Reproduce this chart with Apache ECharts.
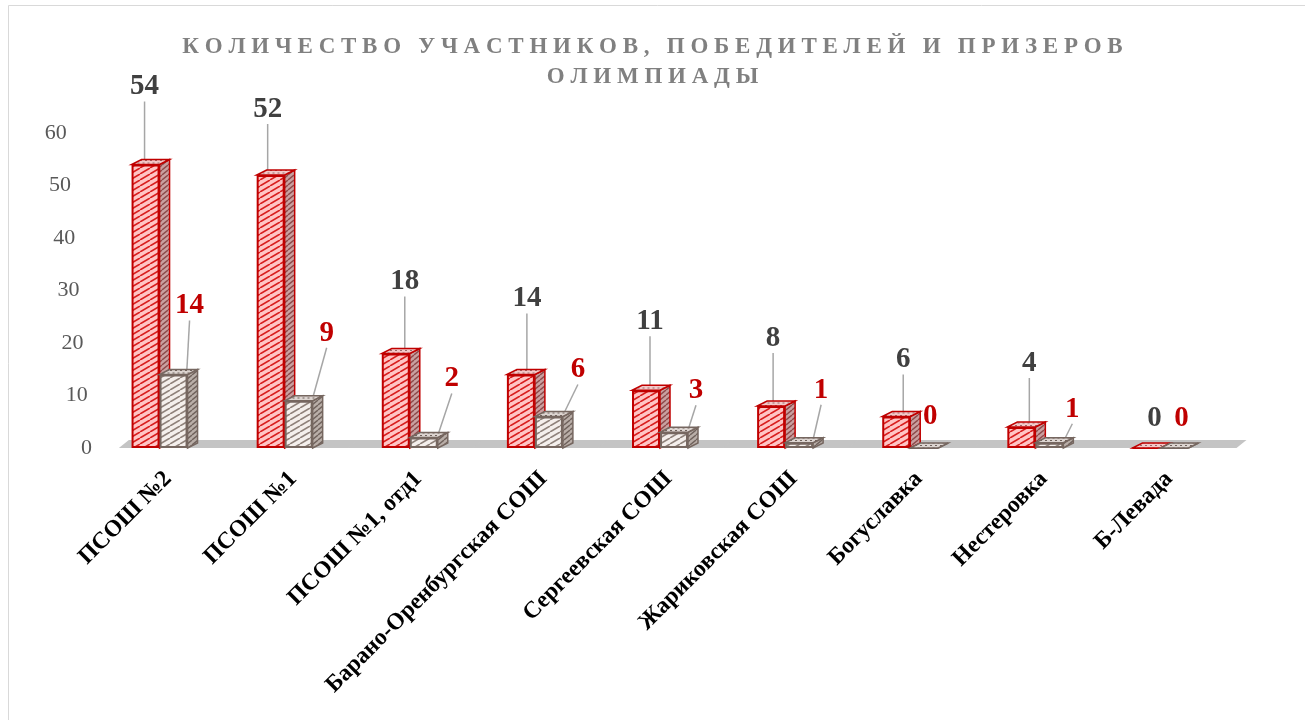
<!DOCTYPE html>
<html><head><meta charset="utf-8">
<script src="https://cdn.jsdelivr.net/npm/echarts@6/dist/echarts.min.js"></script>
<style>html,body{margin:0;padding:0;background:#fff;}#c{width:1305px;height:720px;}</style>
</head><body><div id="c"></div>
<script>
// ---- data ----
const categories = ['ПСОШ №2','ПСОШ №1','ПСОШ №1, отд1','Барано-Оренбургская СОШ','Сергеевская СОШ','Жариковская СОШ','Богуславка','Нестеровка','Б-Левада'];
const participants = [54,52,18,14,11,8,6,4,0];
const winners = [14,9,2,6,3,1,0,1,0];
const seriesNames = ['Участники','Победители и призёры'];
const yMin = 0, yMax = 60, yStep = 10;
const titleLines = ['КОЛИЧЕСТВО УЧАСТНИКОВ, ПОБЕДИТЕЛЕЙ И ПРИЗЕРОВ','ОЛИМПИАДЫ'];

// ---- label placement (layout, not data) ----
const partLabelShift = [[-1,-58],[-3,-46],[9,-52],[6,-56],[4,-49],[2,-48],[7,-37],[8,-44],[8,-9]];
const winLabelShift  = [[16,-49],[28,-48],[28,-39],[29,-27],[22,-22],[22,-33],[6,-11],[23,-14],[7,-9]];

function stripes(bg, fg, w, h, lw){
  const c=document.createElement('canvas'); c.width=w; c.height=h;
  const g=c.getContext('2d'); g.fillStyle=bg; g.fillRect(0,0,w,h);
  g.strokeStyle=fg; g.lineWidth=lw;
  for(let k=-1;k<=1;k++){ g.beginPath(); g.moveTo(k*w,h); g.lineTo(k*w+w,0); g.stroke(); }
  return {image:c, repeat:'repeat'};
}
function grid(bg, fg, s){
  const c=document.createElement('canvas'); c.width=s; c.height=s;
  const g=c.getContext('2d'); g.fillStyle=bg; g.fillRect(0,0,s,s);
  g.fillStyle=fg; g.fillRect(0,0,2,1); g.fillRect(s/2,s/2,2,1);
  return {image:c, repeat:'repeat'};
}
const PAT = {
  redFront: stripes('#ffc4c4','#d81e1e',10,6,1.6),
  redSide: stripes('#c9a0a0','#8e4a4a',6,5,1.4),
  redTop: grid('#f3c9c9','#9a6a6a',5),
  greyFront: stripes('#f4efec','#8f827b',10,6,1.6),
  greySide: stripes('#b9aea8','#6f625c',6,5,1.4),
  greyTop: grid('#ddd5d1','#6f625c',5)
};
const RED_EDGE='#c00000', GREY_EDGE='#766760';
const BW = 28, DX = 10, DY = -5;

function make3d(sign, side, top, edge){
  return function(params, api){
    const i = api.value(0), v = api.value(1);
    const pTop = api.coord([i, v]), pBase = api.coord([i, 0]);
    const x0 = sign < 0 ? pTop[0]-BW : pTop[0];
    const x1 = x0 + BW;
    const yt = pTop[1], yb = pBase[1];
    return {type:'group', children:[
      {type:'polygon', shape:{points:[[x1,yb],[x1,yt],[x1+DX,yt+DY],[x1+DX,yb+DY]]},
       style:{fill:side, stroke:edge, lineWidth:1.5}},
      {type:'polygon', shape:{points:[[x0,yt],[x1,yt],[x1+DX,yt+DY],[x0+DX,yt+DY]]},
       style:{fill:top, stroke:edge, lineWidth:1.5}}
    ]};
  };
}

function floorItem(params, api){
  const i = api.value(0), n = categories.length;
  const p = api.coord([i, 0]);
  const half = api.size([1,0])[0]/2;
  const l = p[0] - (i===0 ? half*0.65 : half);
  const r = p[0] + (i===n-1 ? half*1.2 : half);
  const y = p[1];
  return {type:'polygon', shape:{points:[[l,y],[r+1,y],[r+1+DX,y-8],[l+DX,y-8]]},
          style:{fill:'#c4c4c4'}};
}

const rich = {};
for(let v=yMin; v<=yMax; v+=yStep){
  rich['t'+v] = {fontFamily:'Liberation Serif', fontSize:22, color:'#595959', padding:[0, v*0.42, 0, 0]};
}

const labelBase = {show:true, position:'top', fontFamily:'Liberation Serif', fontWeight:'bold', fontSize:29};
const withLines = arr => arr.map(v => v === 0 ? {value:v, labelLine:{show:false}} : v);

const chart = echarts.init(document.getElementById('c'));
chart.setOption({
  animation:false,
  backgroundColor:'#fff',
  graphic:[{type:'rect', shape:{x:8.5,y:5.5,width:1400,height:800}, style:{fill:'none', stroke:'#d9d9d9', lineWidth:1}, silent:true, z:-10}],
  title:{
    text: titleLines.map(l => l.split(' ').map(w => w.split('').join(' ')).join('   ')).join('\n'),
    left:'center', top:27,
    textStyle:{fontFamily:'Liberation Serif', fontWeight:'bold', fontSize:23, color:'#808080', lineHeight:30}
  },
  grid:{left:97, right:82, top:133, bottom:272},
  xAxis:{type:'category', data:categories,
    axisLine:{show:false}, axisTick:{show:false},
    axisLabel:{interval:0, rotate:45, margin:19, align:'right', verticalAlign:'top', fontFamily:'Liberation Serif', fontWeight:'bold', fontSize:23.5, color:'#000'}},
  yAxis:{type:'value', min:yMin, max:yMax, interval:yStep,
    axisLine:{show:false}, axisTick:{show:false}, splitLine:{show:false},
    axisLabel:{margin:5, formatter: v => '{t'+v+'|'+v+'}', rich: rich}},
  series:[
    {type:'custom', name:'floor', renderItem: floorItem, data: categories.map((c,i)=>[i]), z:1, silent:true},
    {type:'bar', name:seriesNames[0], data:withLines(participants), barWidth:BW, barGap:'0%', z:2,
     itemStyle:{color:PAT.redFront, borderColor:RED_EDGE, borderWidth:2},
     label:Object.assign({color:'#404040'}, labelBase),
     labelLayout: p => ({dx: partLabelShift[p.dataIndex][0], dy: partLabelShift[p.dataIndex][1]}),
     labelLine:{show:true, lineStyle:{color:'#a6a6a6', width:1.5}}},
    {type:'custom', name:seriesNames[0]+' 3d', renderItem: make3d(-1, PAT.redSide, PAT.redTop, RED_EDGE),
     data: participants.map((v,i)=>[i,v]), z:3, silent:true},
    {type:'bar', name:seriesNames[1], data:withLines(winners), barWidth:BW, z:4,
     itemStyle:{color:PAT.greyFront, borderColor:GREY_EDGE, borderWidth:2},
     label:Object.assign({color:'#c00000'}, labelBase),
     labelLayout: p => ({dx: winLabelShift[p.dataIndex][0], dy: winLabelShift[p.dataIndex][1]}),
     labelLine:{show:true, lineStyle:{color:'#a6a6a6', width:1.5}}},
    {type:'custom', name:seriesNames[1]+' 3d', renderItem: make3d(1, PAT.greySide, PAT.greyTop, GREY_EDGE),
     data: winners.map((v,i)=>[i,v]), z:5, silent:true}
  ]
});
</script></body></html>
